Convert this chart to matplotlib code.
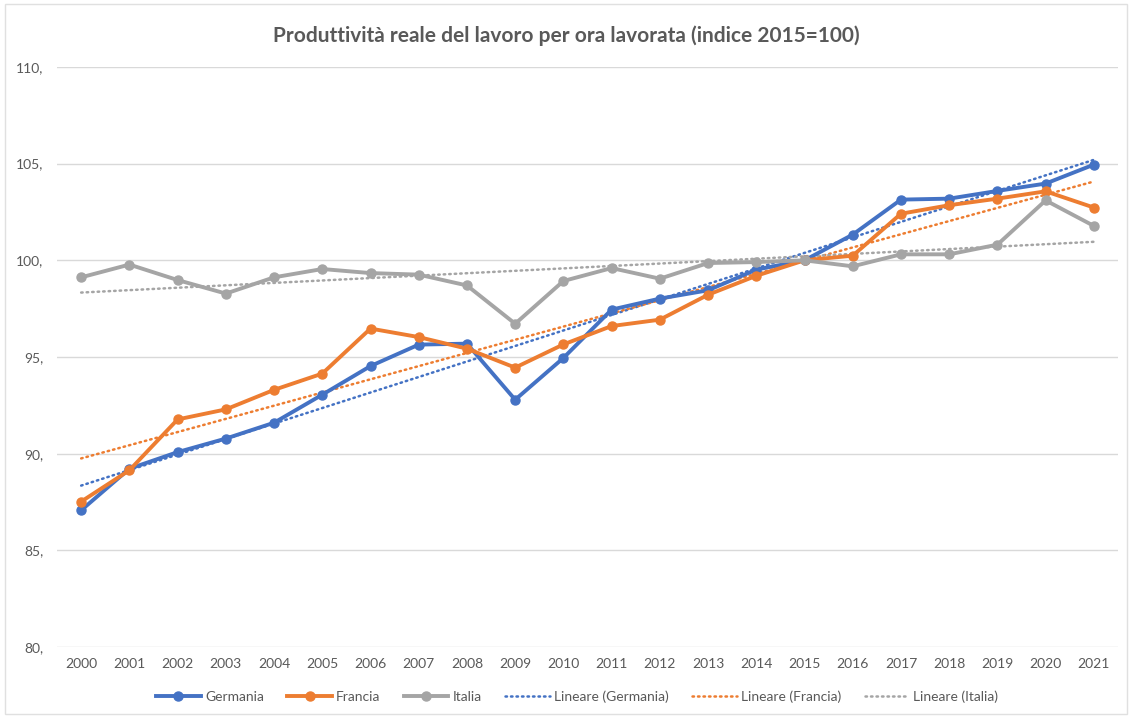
import numpy as np
import matplotlib.pyplot as plt
from matplotlib.patches import Rectangle

# Dati (indice 2015=100)
anni = list(range(2000, 2022))
germania = [87.07, 89.22, 90.08, 90.78, 91.60, 93.05, 94.53, 95.64, 95.69, 92.79, 94.95,
            97.45, 98.02, 98.45, 99.52, 100.0, 101.33, 103.14, 103.19, 103.59, 103.97, 104.95]
francia = [87.52, 89.14, 91.77, 92.29, 93.30, 94.14, 96.47, 96.03, 95.43, 94.45, 95.65,
           96.60, 96.93, 98.22, 99.20, 100.0, 100.24, 102.41, 102.85, 103.19, 103.57, 102.73]
italia = [99.12, 99.78, 98.98, 98.28, 99.12, 99.55, 99.34, 99.26, 98.70, 96.72, 98.93,
          99.60, 99.05, 99.86, 99.91, 100.0, 99.69, 100.31, 100.31, 100.81, 103.10, 101.78]

serie = [("Germania", germania, '#4472C4'),
         ("Francia", francia, '#ED7D31'),
         ("Italia", italia, '#A5A5A5')]

plt.rcParams['font.family'] = ['Lato', 'DejaVu Sans']
testo = '#595959'

fig = plt.figure(figsize=(11.32, 7.18), dpi=100)
ax = fig.add_axes([0.0504, 0.0989, 0.9372, 0.8078])

x = np.arange(len(anni))
linee = []
for nome, valori, colore in serie:
    l, = ax.plot(x, valori, color=colore, lw=2.8, marker='o', markersize=6.5,
                 label=nome, zorder=3, solid_joinstyle='round')
    linee.append(l)

# linee di tendenza lineari (come in Excel)
tendenze = []
for nome, valori, colore in serie:
    coef = np.polyfit(x, valori, 1)
    t, = ax.plot(x, np.polyval(coef, x), color=colore, lw=1.8, ls=(0, (0.6, 1.6)),
                 dash_capstyle='round', label=f"Lineare ({nome})", zorder=2)
    tendenze.append(t)

ax.set_xlim(-0.5, len(anni) - 0.5)
ax.set_ylim(80, 110)
ax.set_yticks(range(80, 111, 5))
ax.set_yticklabels([f"{v}," for v in range(80, 111, 5)])
ax.set_xticks(x)
ax.set_xticklabels([str(a) for a in anni])
ax.tick_params(length=0, labelsize=10, colors=testo, pad=8)
ax.tick_params(axis='y', pad=10)
ax.grid(axis='y', color='#D9D9D9', lw=1)
ax.set_axisbelow(True)
for s in ax.spines.values():
    s.set_visible(False)

fig.suptitle("Produttività reale del lavoro per ora lavorata (indice 2015=100)",
             x=0.5, y=0.965, fontsize=15, fontweight='bold', color=testo)

fig.legend(handles=linee + tendenze, loc='center', bbox_to_anchor=(0.51, 0.03), ncol=6,
           frameon=False, fontsize=10, labelcolor=testo, handlelength=3.2,
           columnspacing=1.7, handletextpad=0.3)

# bordo dell'area del grafico
fig.patches.append(Rectangle((0.004, 0.006), 0.992, 0.988, transform=fig.transFigure,
                             fill=False, edgecolor='#E0E0E0', lw=1))

plt.savefig('out.png', dpi=100)
